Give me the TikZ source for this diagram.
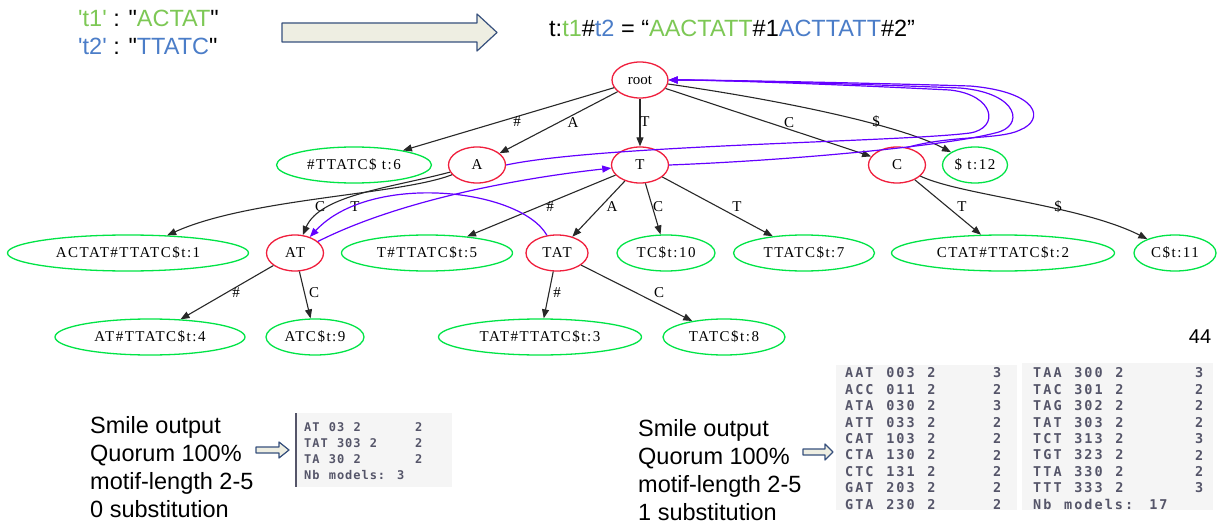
\documentclass[tikz,border=0pt]{standalone}
\usepackage{fontspec}
\setmainfont{Liberation Sans}
\newfontfamily\treefont[LetterSpace=10]{Liberation Serif}
\newfontfamily\plainserif{Liberation Serif}
\newfontfamily\codefont[LetterSpace=15,WordSpace=1.25]{DejaVu Sans Mono}
\newfontfamily\smallcodefont[LetterSpace=8,WordSpace=1.13]{DejaVu Sans Mono}
\usetikzlibrary{shapes.geometric,arrows.meta}
\definecolor{nodered}{RGB}{240,30,60}
\definecolor{leafgreen}{RGB}{0,228,70}
\definecolor{linkpurple}{RGB}{100,0,255}
\definecolor{edgegray}{RGB}{40,40,40}
\definecolor{seqgreen}{RGB}{125,200,85}
\definecolor{seqblue}{RGB}{75,125,200}
\definecolor{arrowfill}{RGB}{238,238,226}
\definecolor{arrowline}{RGB}{55,80,125}
\definecolor{codebg}{RGB}{245,245,245}
\definecolor{codetext}{RGB}{85,85,105}
\begin{document}
\begin{tikzpicture}[x=1pt,y=-1pt,>={Triangle[length=9pt,width=7pt]},line join=round,
  inode/.style={ellipse,draw=nodered,line width=1.3,minimum height=36,inner sep=0pt,
    font={\treefont\fontsize{15}{17}\selectfont}},
  leaf/.style={inode,draw=leafgreen},
  lab/.style={inner sep=0pt,font={\plainserif\fontsize{15}{17}\selectfont}},
  treeedge/.style={->,draw=edgegray,line width=1.1},
  suffixlink/.style={->,draw=linkpurple,line width=1.2},
  hollow/.style={draw=arrowline,fill=arrowfill,line width=1.2},
  note/.style={align=left,inner sep=0pt,anchor=west,font={\fontsize{23.5}{28}\selectfont}},
  code/.style={inner sep=0pt,anchor=west,text=codetext,font={\codefont\bfseries\fontsize{13.5}{15}\selectfont}},
  smallcode/.style={code,font={\smallcodefont\bfseries\fontsize{12}{14}\selectfont}}]
\fill[white] (0,0) rectangle (1219,527);
\useasboundingbox (0,0) rectangle (1219,527);
% input strings and concatenation
\node[note] (strings) at (78,32) {{\color{seqgreen}\textquotesingle t1\textquotesingle} : \textquotedbl{\color{seqgreen}ACTAT}\textquotedbl\\
  {\color{seqblue}\textquotesingle t2\textquotesingle} : \textquotedbl{\color{seqblue}TTATC}\textquotedbl};
\draw[hollow] (282,23) -- (477,23) -- (477,14) -- (497,32.5) -- (477,51) -- (477,42) -- (282,42) -- cycle;
\node[note] (concat) at (549,28) {t:{\color{seqgreen}t1}\#{\color{seqblue}t2} = “{\color{seqgreen}AACTATT}\#1{\color{seqblue}ACTTATT}\#2”};
% suffix tree
\node[inode,minimum width=56,font={\plainserif\fontsize{15}{17}\selectfont}] (root) at (640,80) {root};
\node[leaf,minimum width=155] (t6) at (354,165) {\#TTATC\$ t:6};
\node[inode,minimum width=57] (A) at (477,165) {A};
\node[inode,minimum width=57] (T) at (640,165) {T};
\node[inode,minimum width=57] (C) at (897,165) {C};
\node[leaf,minimum width=65] (t12) at (975,165) {\$ t:12};
\node[leaf,minimum width=241] (t1) at (128,253) {ACTAT\#TTATC\$t:1};
\node[inode,minimum width=57] (AT) at (295,253) {AT};
\node[leaf,minimum width=171] (t5) at (427,253) {T\#TTATC\$t:5};
\node[inode,minimum width=62] (TAT) at (557,253) {TAT};
\node[leaf,minimum width=98] (t10) at (666,253) {TC\$t:10};
\node[leaf,minimum width=141] (t7) at (804,253) {TTATC\$t:7};
\node[leaf,minimum width=223] (t2) at (1003,253) {CTAT\#TTATC\$t:2};
\node[leaf,minimum width=82] (t11) at (1175,253) {C\$t:11};
\node[leaf,minimum width=190] (t4) at (150,337) {AT\#TTATC\$t:4};
\node[leaf,minimum width=98] (t9) at (315,337) {ATC\$t:9};
\node[leaf,minimum width=203] (t3) at (540,337) {TAT\#TTATC\$t:3};
\node[leaf,minimum width=122] (t8) at (724,337) {TATC\$t:8};
\draw[treeedge] (root) -- (t6);
\draw[treeedge] (root) -- (A);
\draw[treeedge] (root) -- (T);
\draw[treeedge] (root) -- (C);
\draw[treeedge] (root) .. controls (780,100) and (900,125) .. (t12);
\draw[treeedge] (A) .. controls (400,195) and (250,198) .. (t1);
\draw[treeedge] (A) .. controls (390,188) and (320,195) .. (AT);
\draw[treeedge] (T) -- (t5);
\draw[treeedge] (T) -- (TAT);
\draw[treeedge] (T) -- (t10);
\draw[treeedge] (T) -- (t7);
\draw[treeedge] (C) -- (t2);
\draw[treeedge] (C) .. controls (960,195) and (1080,205) .. (t11);
\draw[treeedge] (AT) -- (t4);
\draw[treeedge] (AT) -- (t9);
\draw[treeedge] (TAT) -- (t3);
\draw[treeedge] (TAT) -- (t8);
\node[lab] (l-t6) at (517,122) {\#};
\node[lab] (l-A) at (573,123) {A};
\node[lab] (l-T) at (645,122) {T};
\node[lab] (l-C) at (789,123) {C};
\node[lab] (l-t12) at (876,122) {\$};
\node[lab] (l-t1) at (320,207) {C};
\node[lab] (l-AT) at (355,207) {T};
\node[lab] (l-t5) at (550,207) {\#};
\node[lab] (l-TAT) at (612,207) {A};
\node[lab] (l-t10) at (658,207) {C};
\node[lab] (l-t7) at (737,207) {T};
\node[lab] (l-t2) at (962,207) {T};
\node[lab] (l-t11) at (1058,207) {\$};
\node[lab] (l-t4) at (236,293) {\#};
\node[lab] (l-t9) at (314,293) {C};
\node[lab] (l-t3) at (557,293) {\#};
\node[lab] (l-t8) at (659,293) {C};
% suffix links
\draw[suffixlink] (AT) .. controls (400,200) and (520,178) .. (T);
\draw[suffixlink] (TAT) .. controls (520,188) and (370,172) .. (AT);
\draw[suffixlink] (A.east) .. controls (600,145) and (900,142) .. (970,133)
  .. controls (1000,128) and (995,95) .. (950,90) .. controls (850,85) and (720,80) .. (root.east);
\draw[suffixlink] (T.east) .. controls (800,160) and (950,145) .. (995,133)
  .. controls (1025,127) and (1020,93) .. (960,88) .. controls (860,84) and (720,80) .. (root.east);
\draw[suffixlink] (C.60) .. controls (950,135) and (1000,140) .. (1020,130)
  .. controls (1045,120) and (1040,92) .. (970,86) .. controls (870,83) and (720,80) .. (root.east);
\node[font=\fontsize{20}{24}\selectfont,inner sep=0pt] (page) at (1200,337) {44};
% smile runs
\node[note] (run1) at (90,467) {Smile output\\Quorum 100\%\\motif-length 2-5\\0 substitution};
\draw[hollow] (256,447) -- (279,447) -- (279,442) -- (289,450) -- (279,458) -- (279,453) -- (256,453) -- cycle;
\fill[codebg] (295,413) rectangle (452,487);
\draw[codetext,line width=2] (296,413) -- (296,487);
\foreach \m [count=\i from 0] in {AT 03 2,TAT 303 2,TA 30 2} {
  \node[smallcode] (ra\i) at (304,427+16*\i) {\m};
  \node[smallcode] (rb\i) at (415,427+16*\i) {2};
}
\node[smallcode] (nb1) at (304,475) {Nb models: 3};
\node[note] (run2) at (638,470) {Smile output\\Quorum 100\%\\motif-length 2-5\\1 substitution};
\draw[hollow] (803,449) -- (825,449) -- (825,444) -- (833,452) -- (825,460) -- (825,455) -- (803,455) -- cycle;
\fill[codebg] (836,365) rectangle (1017,510);
\fill[codebg] (1022,363) rectangle (1213,510);
\begin{scope}
\clip (836,360) rectangle (1213,510);
\foreach \m/\n [count=\i from 0] in {AAT 003 2/3,ACC 011 2/2,ATA 030 2/3,ATT 033 2/2,CAT 103 2/2,CTA 130 2/2,CTC 131 2/2,GAT 203 2/2,GTA 230 2/2} {
  \node[code] (ma\i) at (845,373+16.4*\i) {\m};
  \node[code] (na\i) at (993,373+16.4*\i) {\n};
}
\foreach \m/\n [count=\i from 0] in {TAA 300 2/3,TAC 301 2/2,TAG 302 2/2,TAT 303 2/2,TCT 313 2/3,TGT 323 2/2,TTA 330 2/2,TTT 333 2/3} {
  \node[code] (mb\i) at (1033,373+16.4*\i) {\m};
  \node[code] (nb\i) at (1195,373+16.4*\i) {\n};
}
\node[code] (nb2) at (1033,504.5) {Nb models: 17};
\end{scope}
\end{tikzpicture}
\end{document}
